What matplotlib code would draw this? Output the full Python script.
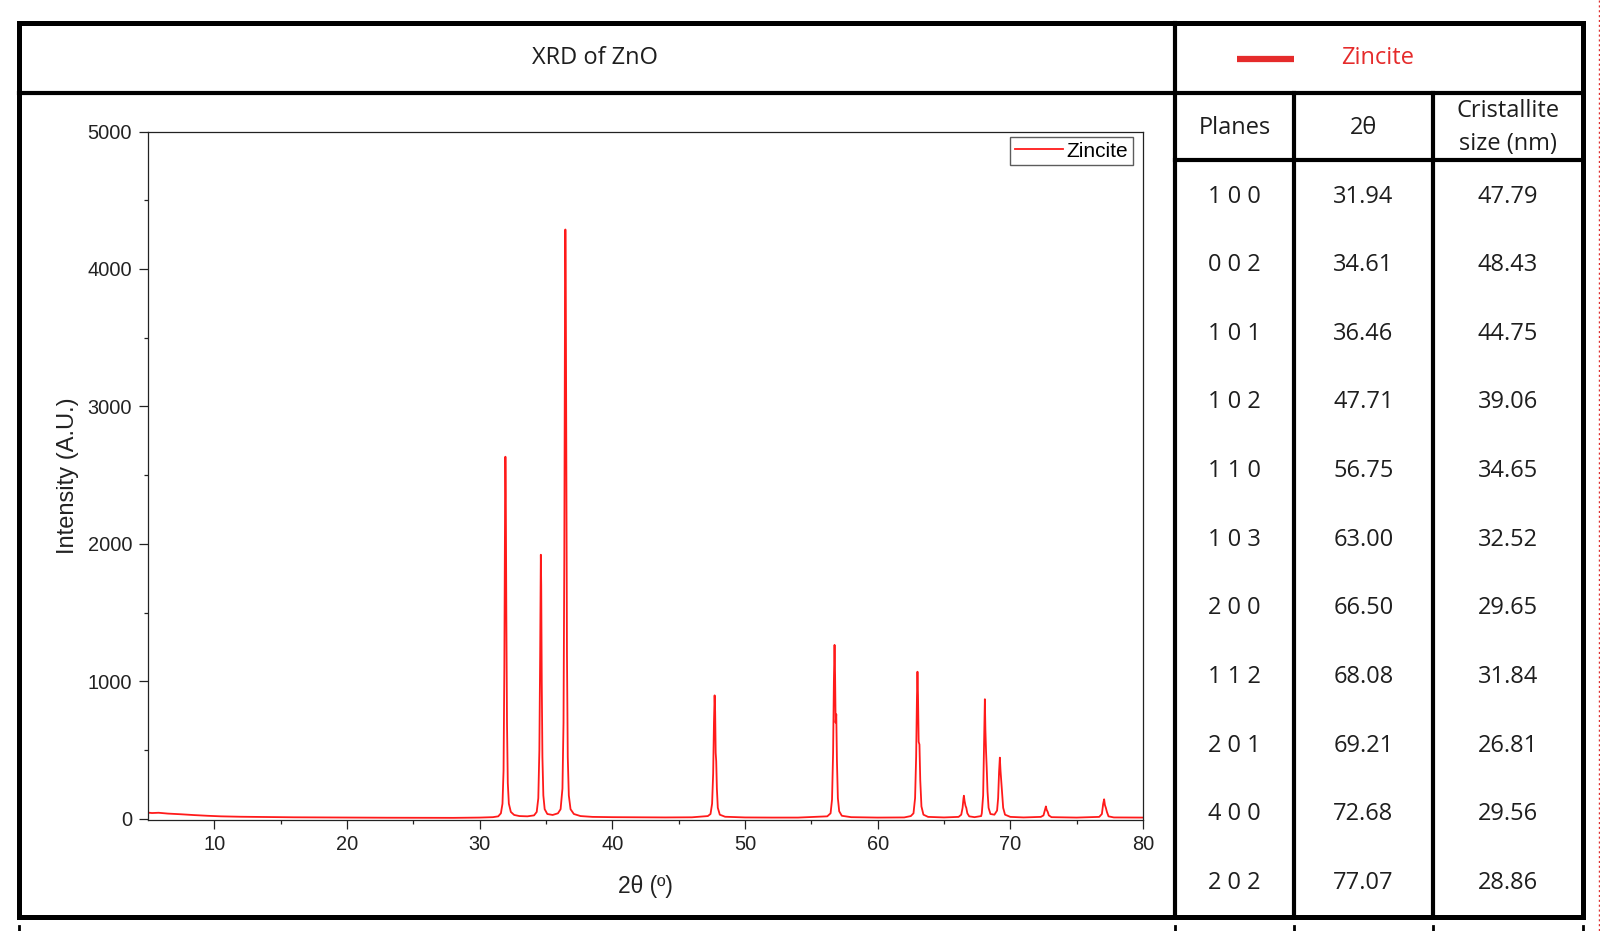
import matplotlib
matplotlib.use("Agg")
import matplotlib.pyplot as plt
from matplotlib.lines import Line2D

# ---------------- data ----------------
two_theta = [5.0, 5.3, 5.8, 6.5, 7.5, 8.5, 9.5, 10.5, 12, 14, 16, 18, 20, 23, 26, 28, 30, 31.0, 31.4,
             31.6, 31.72, 31.8, 31.86, 31.91, 31.94, 31.97, 32.01, 32.06, 32.12, 32.2, 32.35, 32.6, 33.0, 33.6, 34.1,
             34.3, 34.42, 34.5, 34.56, 34.61, 34.64, 34.68, 34.73, 34.8, 34.9, 35.1, 35.5, 35.9,
             36.1, 36.24, 36.32, 36.38, 36.43, 36.46, 36.49, 36.53, 36.58, 36.64, 36.72, 36.85, 37.1, 37.6, 38.5,
             40, 42, 44, 46, 47.2,
             47.4, 47.52, 47.6, 47.66, 47.71, 47.75, 47.79, 47.83, 47.88, 47.95, 48.1, 48.5, 50, 52, 54, 56.2,
             56.45, 56.56, 56.64, 56.7, 56.75, 56.79, 56.83, 56.88, 56.93, 57.0, 57.1, 57.3, 58, 60, 62, 62.5,
             62.7, 62.82, 62.9, 62.96, 63.0, 63.04, 63.09, 63.15, 63.21, 63.3, 63.45, 63.8, 65, 66.1,
             66.3, 66.4, 66.47, 66.5, 66.55, 66.62, 66.68, 66.76, 66.9, 67.3, 67.8,
             67.85, 67.95, 68.02, 68.08, 68.12, 68.17, 68.22, 68.28, 68.36, 68.5, 68.8, 69.0,
             69.08, 69.15, 69.21, 69.26, 69.32, 69.38, 69.46, 69.6, 70, 71, 72.3,
             72.5, 72.6, 72.68, 72.74, 72.82, 72.9, 73.1, 75, 76.7,
             76.9, 77.0, 77.07, 77.13, 77.2, 77.28, 77.4, 77.8, 80]
intensity = [45, 42, 44, 38, 33, 27, 22, 18, 15, 13, 11, 10, 9, 8, 7, 7, 9, 12, 18,
             40, 110, 350, 1100, 2200, 2634, 2350, 1500, 700, 260, 110, 50, 28, 20, 18, 25,
             50, 150, 500, 1200, 1921, 1700, 1000, 450, 170, 70, 35, 28, 40,
             70, 220, 700, 1900, 3700, 4287, 3900, 2600, 1200, 450, 170, 70, 35, 20, 14,
             12, 11, 10, 11, 20,
             35, 110, 330, 700, 898, 780, 480, 420, 220, 80, 30, 15, 10, 9, 9, 18,
             40, 140, 480, 1000, 1265, 1050, 700, 760, 420, 150, 55, 22, 12, 9, 10, 20,
             40, 150, 450, 880, 1070, 900, 560, 540, 280, 90, 30, 14, 10, 14,
             30, 80, 150, 168, 130, 95, 80, 40, 18, 12, 20,
             40, 170, 560, 870, 650, 490, 370, 200, 80, 35, 30, 60,
             150, 340, 445, 350, 270, 200, 80, 30, 14, 10, 14,
             25, 60, 90, 65, 50, 25, 12, 9, 14,
             35, 110, 142, 100, 80, 50, 18, 10, 9]

planes = ["1 0 0", "0 0 2", "1 0 1", "1 0 2", "1 1 0", "1 0 3", "2 0 0", "1 1 2", "2 0 1", "4 0 0", "2 0 2"]
peak_2theta = ["31.94", "34.61", "36.46", "47.71", "56.75", "63.00", "66.50", "68.08", "69.21", "72.68", "77.07"]
cryst_size = ["47.79", "48.43", "44.75", "39.06", "34.65", "32.52", "29.65", "31.84", "26.81", "29.56", "28.86"]

x_ticks = [10, 20, 30, 40, 50, 60, 70, 80]
y_ticks = [0, 1000, 2000, 3000, 4000, 5000]

# ---------------- layout ----------------
W, H = 1600, 931
fig = plt.figure(figsize=(W / 100, H / 100), dpi=100)
fig.patch.set_facecolor("white")

def fx(px):
    return px / W

def fy(py):
    return 1 - py / H

TXT = "#1e1e1e"
RED_HDR = "#e52b2b"
SANS = ["Open Sans", "DejaVu Sans"]
ARIAL = ["Liberation Sans", "DejaVu Sans"]

ax_left, ax_right, ax_top, ax_bot = 148, 1143, 131.5, 819.5
ax = fig.add_axes([fx(ax_left), fy(ax_bot), fx(ax_right) - fx(ax_left), fy(ax_top) - fy(ax_bot)])
ax.plot(two_theta, intensity, color="#ff1a1a", lw=1.3, label="Zincite")
ax.set_xlim(5, 80)
ax.set_ylim(-5, 5000)
ax.set_xticks(x_ticks)
ax.set_yticks(y_ticks)
ax.set_xticks([15, 25, 35, 45, 55, 65, 75], minor=True)
ax.set_yticks([500, 1500, 2500, 3500, 4500], minor=True)
for s in ax.spines.values():
    s.set_linewidth(0.9)
    s.set_color("#222222")
ax.tick_params(axis="both", which="major", direction="out", length=6.5, width=0.9,
               labelsize=14.4, colors="#222222", top=False, right=False)
ax.tick_params(axis="both", which="minor", direction="out", length=3.2, width=0.9,
               colors="#222222", top=False, right=False)
ax.tick_params(axis="x", which="major", pad=5)
ax.tick_params(axis="y", which="major", pad=5)
for lab in ax.get_xticklabels() + ax.get_yticklabels():
    lab.set_fontfamily(ARIAL)
ax.set_xlabel("2θ (º)", fontsize=16.5, family=ARIAL, color="#222222")
ax.set_ylabel("Intensity (A.U.)", fontsize=17, family=ARIAL, color="#222222")
ax.xaxis.set_label_coords(0.5, (ax_bot - 887) / (ax_bot - ax_top))
ax.xaxis.label.set_va("center")
ax.yaxis.set_label_coords((68 - ax_left) / (ax_right - ax_left), 0.5)
ax.yaxis.label.set_va("center")

leg = ax.legend(loc="upper right", bbox_to_anchor=(1 - 10 / (ax_right - ax_left), 1 - 5.5 / (ax_bot - ax_top)),
                frameon=True, fancybox=False, handlelength=2.3, handletextpad=0.2,
                borderpad=0.22, borderaxespad=0.0, prop={"family": ARIAL, "size": 15})
leg.get_frame().set_edgecolor("#333333")
leg.get_frame().set_linewidth(1.0)

# ---------------- frame and table lines ----------------
L, R, T, B = 18.5, 1583, 22.5, 917
VDIV, C1, C2 = 1175, 1294, 1433
TROW, HROW = 93, 160

def hline(y, x0, x1, lw):
    fig.add_artist(Line2D([fx(x0), fx(x1)], [fy(y), fy(y)], color="black", lw=lw,
                          solid_capstyle="projecting", transform=fig.transFigure))

def vline(x, y0, y1, lw, **kw):
    fig.add_artist(Line2D([fx(x), fx(x)], [fy(y0), fy(y1)], color=kw.get("color", "black"), lw=lw,
                          linestyle=kw.get("ls", "-"), solid_capstyle="projecting", transform=fig.transFigure))

BW = 3.6
IW = 3.0
hline(T, L, R, BW)
hline(B, L, R, BW)
vline(L, T, B, BW)
vline(R, T, B, BW)
hline(TROW, L, R, IW)
vline(VDIV, T, B, IW)
vline(C1, TROW, B, IW)
vline(C2, TROW, B, IW)
hline(HROW, VDIV, R, IW)
# small marks below the frame
for xm in [L, VDIV, C1, C2, R]:
    vline(xm, 926, 931, 2.0)
# red dotted guide at right edge
vline(1598.5, 0, 931, 1.0, color="#e03030", ls=(0, (1.5, 2.0)))

# ---------------- texts ----------------
fig.text(fx(595), fy(58), "XRD of ZnO", ha="center", va="center", fontsize=17, family=SANS, color=TXT)
fig.add_artist(Line2D([fx(1237), fx(1294)], [fy(59), fy(59)], color=RED_HDR, lw=4.5,
                      solid_capstyle="butt", transform=fig.transFigure))
fig.text(fx(1378), fy(58), "Zincite", ha="center", va="center", fontsize=17, family=SANS, color=RED_HDR)

col_c = [(VDIV + C1) / 2, (C1 + C2) / 2, (C2 + R) / 2]
fig.text(fx(col_c[0]), fy(128), "Planes", ha="center", va="center", fontsize=17, family=SANS, color=TXT)
fig.text(fx(col_c[1]), fy(128), "2θ", ha="center", va="center", fontsize=17, family=SANS, color=TXT)
fig.text(fx(col_c[2]), fy(111), "Cristallite", ha="center", va="center", fontsize=17, family=SANS, color=TXT)
fig.text(fx(col_c[2]), fy(144), "size (nm)", ha="center", va="center", fontsize=17, family=SANS, color=TXT)

for i in range(len(planes)):
    yy = 196.7 + 68.6 * i
    fig.text(fx(col_c[0]), fy(yy), planes[i], ha="center", va="center", fontsize=17, family=SANS, color=TXT)
    fig.text(fx(col_c[1]), fy(yy), peak_2theta[i], ha="center", va="center", fontsize=17, family=SANS, color=TXT)
    fig.text(fx(col_c[2]), fy(yy), cryst_size[i], ha="center", va="center", fontsize=17, family=SANS, color=TXT)

fig.savefig("out.png", dpi=100, facecolor="white")
